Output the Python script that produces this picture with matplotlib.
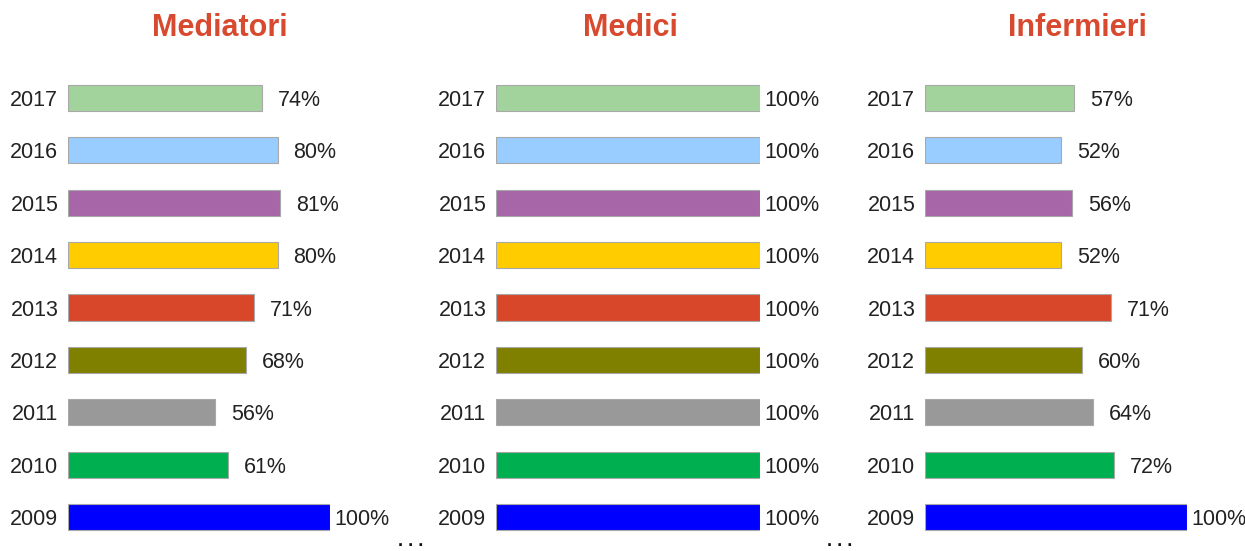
import matplotlib
matplotlib.use("Agg")
import matplotlib.pyplot as plt

plt.rcParams['font.family'] = ['Liberation Sans', 'DejaVu Sans']

years = ["2017", "2016", "2015", "2014", "2013", "2012", "2011", "2010", "2009"]
colors = ["#a3d39c", "#99ccff", "#a666a8", "#ffcc00", "#d9472b",
          "#808000", "#999999", "#00b050", "#0000ff"]
titles = ["Mediatori", "Medici", "Infermieri"]
mediatori = [74, 80, 81, 80, 71, 68, 56, 61, 100]
medici = [100, 100, 100, 100, 100, 100, 100, 100, 100]
infermieri = [57, 52, 56, 52, 71, 60, 64, 72, 100]
series = [mediatori, medici, infermieri]

W, H = 1245, 551
fig = plt.figure(figsize=(W / 100, H / 100), dpi=100)

lefts = [68, 496, 925]
widths = [262, 264, 262]
title_x = [220, 630, 1077]
row_top, row_bot = 98, 517
step = (row_bot - row_top) / 8
y_top = row_top - step / 2
y_bot = row_bot + step / 2

text_color = "#222222"
for i, vals in enumerate(series):
    ax = fig.add_axes([lefts[i] / W, 1 - y_bot / H, widths[i] / W, (y_bot - y_top) / H])
    pos = list(range(len(years)))
    ax.barh(pos, vals, height=0.5, color=colors, edgecolor="#a8a8a8", linewidth=0.8)
    ax.set_xlim(0, 100)
    ax.set_ylim(len(years) - 0.5, -0.5)
    ax.set_yticks(pos)
    ax.set_yticklabels(years, fontsize=15.5, color=text_color)
    ax.tick_params(axis='y', length=0, pad=7)
    ax.set_xticks([])
    for s in ax.spines.values():
        s.set_visible(False)
    for p, v in zip(pos, vals):
        off = 4 if v >= 100 else 16
        ax.annotate(f"{v}%", (v, p), xytext=(off * 0.72, 0), textcoords="offset points",
                    ha="left", va="center_baseline", fontsize=15.5, color=text_color,
                    annotation_clip=False)
    fig.text(title_x[i] / W, 1 - 28 / H, titles[i], ha="center", va="center",
             fontsize=22, fontweight="bold", color="#d84a2f")

for x in [411, 840]:
    fig.text(x / W, 1 - 549.5 / H, ". . .", ha="center", va="bottom", fontsize=13,
             fontweight="bold", color="#111111")

fig.savefig("out.png", dpi=100)
